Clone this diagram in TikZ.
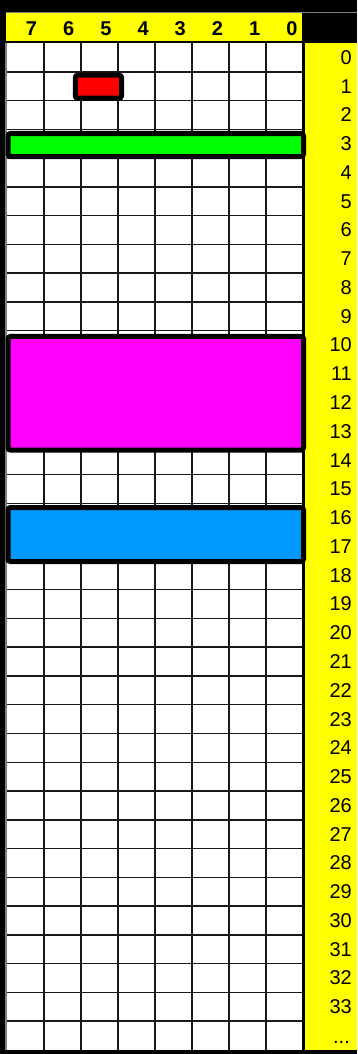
\documentclass[tikz,border=0pt]{standalone}
\usepackage{fontspec}
\setmainfont{Liberation Sans}
\usepackage{xcolor}
\usepackage{tikz}

\definecolor{memyellow}{RGB}{255,255,0}
\definecolor{memgreen}{RGB}{0,255,0}
\definecolor{memblue}{RGB}{0,153,255}
\definecolor{memmagenta}{RGB}{255,0,255}
\definecolor{memred}{RGB}{255,0,0}

\begin{document}
\begin{tikzpicture}[x=1pt, y=-1pt,
    gridline/.style={draw=black!90, line width=1.5pt},
    bitlabel/.style={font=\fontsize{20}{20}\selectfont\bfseries, inner sep=0pt},
    rowlabel/.style={font=\fontsize{20}{20}\selectfont, anchor=east, inner sep=0pt},
    block/.style={rectangle, draw=black, line width=5pt, rounded corners=2.5pt, inner sep=0pt}]

    \useasboundingbox (0,0) rectangle (357,1054);
    \fill[black] (0,0) rectangle (357,1054);
    \draw[gray, line width=0.8pt] (6,12.5) -- (357,12.5);

    % header and address column
    \fill[memyellow] (6,13) rectangle (302,41);
    \fill[memyellow] (305,43) rectangle (357,1050);
    \fill[white] (7,43) rectangle (302,1050);
    \draw[gray, line width=2pt] (6,43) -- (6,1050);

    % grid
    \foreach \i in {1,...,7}
        \draw[gridline] (7+37*\i,43) -- (7+37*\i,1050);
    \foreach \j in {1,...,34}
        \draw[gridline] (7,43+28.77*\j) -- (302,43+28.77*\j);

    % bit numbers
    \foreach \b [count=\i from 0] in {7,6,5,4,3,2,1,0}
        \node[bitlabel] (bit\b) at (31.5+37.2*\i,28.5) {\b};

    % addresses
    \foreach \r in {0,...,33}
        \node[rowlabel] (row\r) at (352,43+28.77*\r+14.4) {\r};
    \node[rowlabel, anchor=base east] (rowmore) at (350,1043.5) {...};

    % used blocks
    \node[block, fill=memred, minimum width=46.3pt, minimum height=23pt] (flagblk) at (98.4,86.7) {};
    \node[block, fill=memgreen, minimum width=295.5pt, minimum height=23pt] (greenblk) at (155.75,145) {};
    \node[block, fill=memmagenta, minimum width=295.5pt, minimum height=113.7pt] (magblk) at (155.75,393.3) {};
    \node[block, fill=memblue, minimum width=295.5pt, minimum height=54pt] (blueblk) at (155.75,534.5) {};
\end{tikzpicture}
\end{document}
